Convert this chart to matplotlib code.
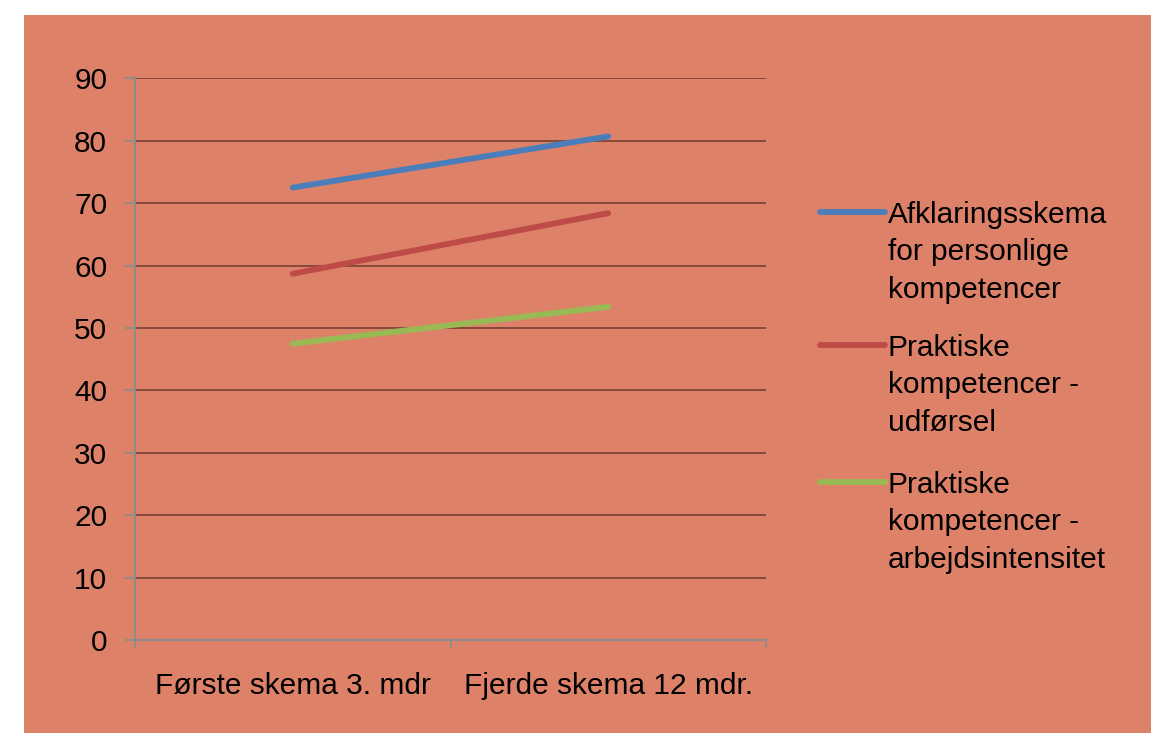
import matplotlib.pyplot as plt
from matplotlib.lines import Line2D
from matplotlib.patches import Rectangle

# Gennemsnitlige scorer ved de to målinger
perioder = ['Første skema 3. mdr', 'Fjerde skema 12 mdr.']
afklaring = [72.5, 80.7]
udfoersel = [58.7, 68.4]
intensitet = [47.5, 53.4]

serie_navne = ['Afklaringsskema\nfor personlige\nkompetencer',
               'Praktiske\nkompetencer -\nudførsel',
               'Praktiske\nkompetencer -\narbejdsintensitet']
farver = ['#4A7EBB', '#BE4B48', '#98B954']

plt.rcParams['font.family'] = ['Liberation Sans', 'DejaVu Sans']

W, H = 1151, 733
fig = plt.figure(figsize=(W / 100, H / 100), dpi=100, facecolor='white')
baggrund = '#DD8269'
fig.patches.append(Rectangle((24 / W, 0), 1 - 24 / W, 1 - 15 / H,
                             transform=fig.transFigure, facecolor=baggrund,
                             edgecolor='none', zorder=-5))

ax = fig.add_axes([135 / W, 1 - 640 / H, (766 - 135) / W, (640 - 78.4) / H])
ax.set_facecolor('none')

x = list(range(len(perioder)))
for vals, farve in zip([afklaring, udfoersel, intensitet], farver):
    ax.plot(x, vals, color=farve, linewidth=4.2, solid_capstyle='round', zorder=3)

ax.set_ylim(0, 90)
ax.set_xlim(-0.5, len(perioder) - 0.5)
ax.set_yticks(range(0, 91, 10))
for y in range(10, 91, 10):
    ax.axhline(y, color='#86493A', linewidth=1.4, zorder=1)

ax.set_xticks([-0.5, 0.5, 1.5])
ax.set_xticklabels([])
ax.set_xticks(x, minor=True)
ax.set_xticklabels(perioder, minor=True)
ax.tick_params(axis='x', which='minor', length=0, pad=23, labelsize=21.5)
ax.tick_params(axis='x', which='major', length=6, width=1.3, color='#8C8C8C', direction='out')
ax.tick_params(axis='y', length=7, width=1.3, color='#8C8C8C', pad=13, labelsize=21.5)

for side in ['top', 'right']:
    ax.spines[side].set_visible(False)
for side in ['left', 'bottom']:
    ax.spines[side].set_color('#8C8C8C')
    ax.spines[side].set_linewidth(1.5)

# Forklaring til højre for plottet
for navn, farve, ly in zip(serie_navne, farver, [212, 345, 482]):
    fig.add_artist(Line2D([820 / W, 885 / W], [1 - ly / H, 1 - ly / H],
                          color=farve, linewidth=4.2, solid_capstyle='round'))
    fig.text(888 / W, 1 - (ly - 11) / H, navn, ha='left', va='top',
             fontsize=21.5, linespacing=1.43)

fig.savefig('out.png', dpi=100, facecolor='white')
